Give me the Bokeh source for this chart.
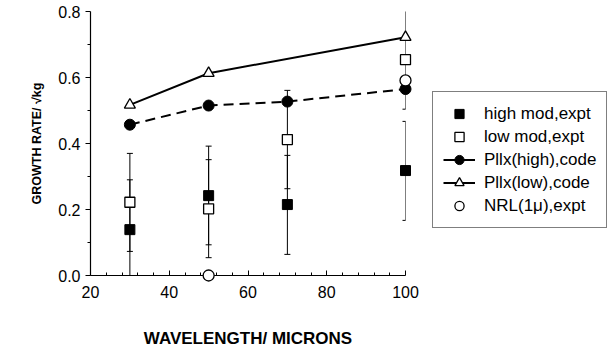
from bokeh.plotting import figure
from bokeh.models import (ColumnDataSource, Range1d, FixedTicker, PrintfTickFormatter,
                          Whisker, TeeHead, Legend, LegendItem)
from bokeh.embed import file_html
from bokeh.resources import INLINE

# ---------------- data ----------------
wavelength = [30, 50, 70, 100]
high_mod = [0.139, 0.242, 0.215, 0.318]
high_mod_lower = [0.0, 0.093, 0.064, 0.167]
high_mod_upper = [0.290, 0.392, 0.364, 0.467]
low_mod = [0.222, 0.202, 0.412, 0.654]
low_mod_lower = [0.073, 0.054, 0.263, 0.504]
low_mod_upper = [0.370, 0.351, 0.561, 0.803]
pllx_high_x = [30, 50, 70, 100]
pllx_high = [0.457, 0.515, 0.527, 0.565]
pllx_low_x = [30, 50, 100]
pllx_low = [0.517, 0.613, 0.722]
nrl_x = [50, 100]
nrl = [0.0, 0.591]

x_major = [20, 40, 60, 80, 100]
x_minor = [24, 28, 32, 36, 44, 48, 52, 56, 64, 68, 72, 76, 84, 88, 92, 96]
y_major = [0.0, 0.2, 0.4, 0.6, 0.8]
y_minor = [0.1, 0.3, 0.5, 0.7]

labels = ["high mod,expt", "low mod,expt", "Pllx(high),code", "Pllx(low),code", "NRL(1\u03bc),expt"]
x_title = "WAVELENGTH/ MICRONS"
y_title = "GROWTH RATE/ \u221akg"

FONT = "Liberation Sans"

p = figure(frame_width=315, frame_height=264, output_backend="svg", toolbar_location=None,
           x_range=Range1d(20, 100), y_range=Range1d(0, 0.8),
           min_border_left=90, min_border_right=0, min_border_top=11, min_border_bottom=0)
p.outline_line_color = None
p.xgrid.grid_line_color = None
p.ygrid.grid_line_color = None

# axes
p.xaxis.ticker = FixedTicker(ticks=x_major, minor_ticks=x_minor)
p.yaxis.ticker = FixedTicker(ticks=y_major, minor_ticks=y_minor)
p.yaxis.formatter = PrintfTickFormatter(format="%.1f")
for ax in (p.xaxis[0], p.yaxis[0]):
    ax.axis_line_color = "black"
    ax.axis_line_width = 1.2
    ax.major_tick_line_color = "black"
    ax.minor_tick_line_color = "black"
    ax.major_label_text_font = FONT
    ax.major_label_text_font_size = "16px"
    ax.major_label_text_color = "black"
    ax.axis_label_text_font = FONT
    ax.axis_label_text_font_style = "bold"
    ax.axis_label_text_color = "black"
p.xaxis.major_tick_in = 5
p.xaxis.major_tick_out = 0
p.xaxis.minor_tick_in = 3
p.xaxis.minor_tick_out = 0
p.xaxis.major_label_standoff = 10
p.xaxis.axis_label = x_title
p.xaxis.axis_label_text_font_size = "17px"
p.xaxis.axis_label_standoff = 28

p.yaxis.major_tick_in = 0
p.yaxis.major_tick_out = 5
p.yaxis.minor_tick_in = 0
p.yaxis.minor_tick_out = 3
p.yaxis.major_label_standoff = 5
p.yaxis.axis_label = y_title
p.yaxis.axis_label_text_font_size = "12.5px"
p.yaxis.axis_label_standoff = 11

# error bars
err_high = ColumnDataSource(dict(x=wavelength, lower=high_mod_lower, upper=high_mod_upper))
err_low = ColumnDataSource(dict(x=wavelength, lower=low_mod_lower, upper=low_mod_upper))
for src in (err_high, err_low):
    w = Whisker(base="x", lower="lower", upper="upper", source=src, dimension="height",
                line_color="black", line_width=1,
                upper_head=TeeHead(size=6, line_color="black", line_width=1),
                lower_head=TeeHead(size=6, line_color="black", line_width=1),
                level="annotation")
    p.add_layout(w)

# lines
l_high = p.line(pllx_high_x, pllx_high, line_color="black", line_width=2, line_dash="10 6",
                level="overlay")
l_low = p.line(pllx_low_x, pllx_low, line_color="black", line_width=2, level="overlay")

# markers
r_high = p.scatter(wavelength, high_mod, marker="square", size=10, fill_color="black",
                   line_color="black", level="overlay")
r_low = p.scatter(wavelength, low_mod, marker="square", size=10, fill_color="white",
                  line_color="black", line_width=1.3, level="overlay")
c_high = p.scatter(pllx_high_x, pllx_high, marker="circle", size=11, fill_color="black",
                   line_color="black", level="overlay")
t_low = p.scatter(pllx_low_x, pllx_low, marker="triangle", size=11, fill_color="white",
                  line_color="black", line_width=1.3, level="overlay")
r_nrl = p.scatter(nrl_x, nrl, marker="circle", size=11, fill_color="white",
                  line_color="black", line_width=1.3, level="overlay")

legend = Legend(items=[
    LegendItem(label=labels[0], renderers=[r_high]),
    LegendItem(label=labels[1], renderers=[r_low]),
    LegendItem(label=labels[2], renderers=[l_low, c_high]),
    LegendItem(label=labels[3], renderers=[l_low, t_low]),
    LegendItem(label=labels[4], renderers=[r_nrl]),
], location=(27, 47))
legend.label_text_font = FONT
legend.label_text_font_size = "17px"
legend.label_text_color = "black"
legend.glyph_width = 32
legend.glyph_height = 23
legend.label_height = 23
legend.spacing = 0
legend.padding = 10
legend.margin = 0
legend.label_standoff = 9
legend.border_line_color = "black"
legend.border_line_width = 1.2
legend.background_fill_alpha = 1
p.add_layout(legend, "right")

open("out.html", "w").write(file_html(p, INLINE))
